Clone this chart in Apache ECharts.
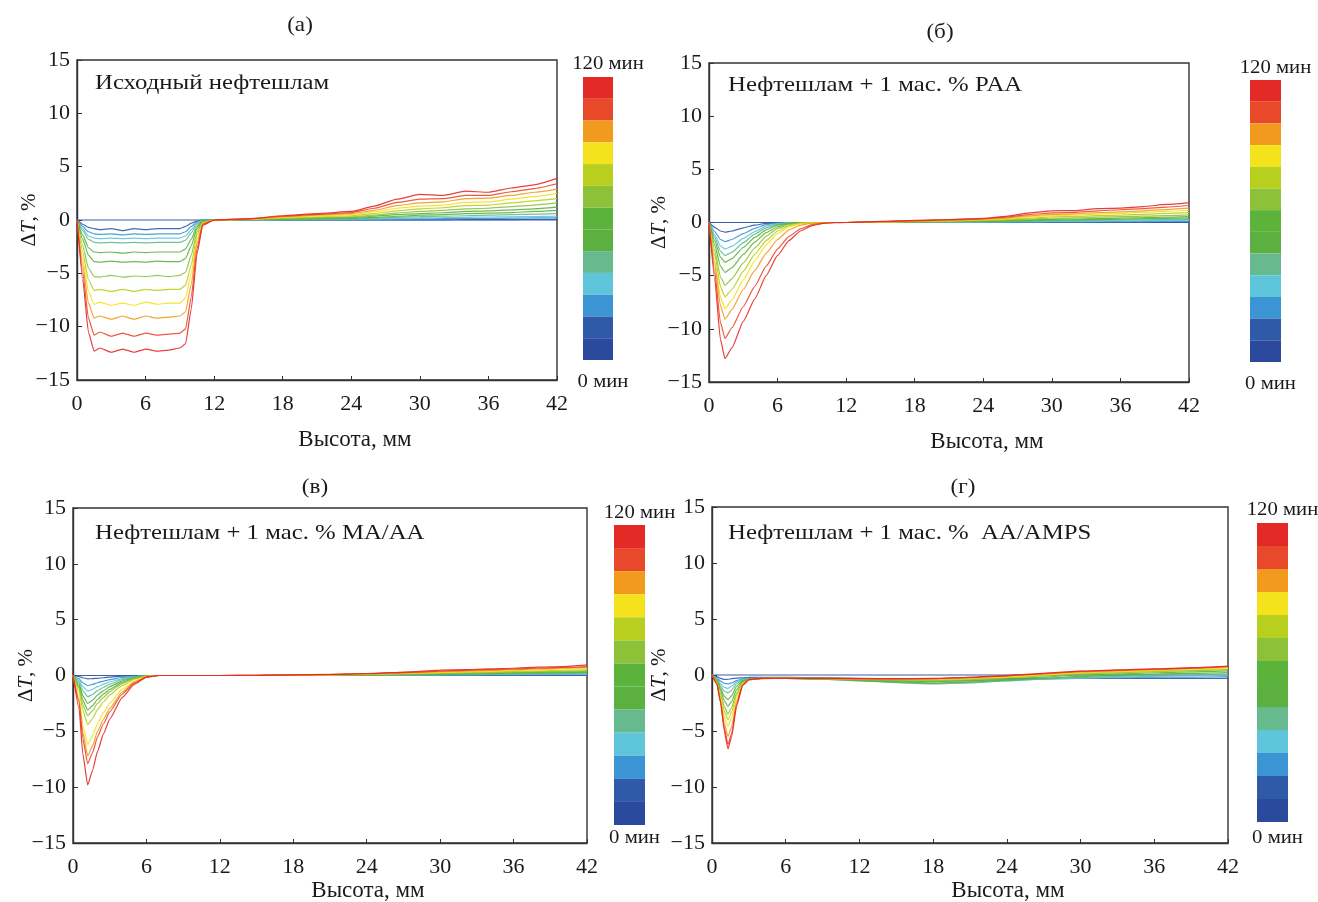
<!DOCTYPE html>
<html><head><meta charset="utf-8">
<script src="https://cdn.jsdelivr.net/npm/echarts@6/dist/echarts.min.js"></script>
<style>html,body{margin:0;padding:0;background:#fff}#c{width:1318px;height:902px}</style>
</head><body><div id="c"></div>
<script>
// ---- data ----
const minutes = [0,10,20,30,40,50,60,70,80,90,100,110,120];
const curveColors = ['#2c4a9d','#2f5aa7','#3b95d5','#5fc5da','#67b98e','#5bb040','#5cb33b','#8dc238','#b8cf1f','#f3e21c','#f29a1e','#e8492a','#e42a27'];
const xTicks = [0,6,12,18,24,30,36,42];
const yTicks = [-15,-10,-5,0,5,10,15];
const panelLabels = ['(а)','(б)','(в)','(г)'];
const sampleNames = ['Исходный нефтешлам','Нефтешлам + 1 мас. % PAA','Нефтешлам + 1 мас. % MA/AA','Нефтешлам + 1 мас. %  AA/AMPS'];
const barTopText = '120 мин';
const barBottomText = '0 мин';
const xName = 'Высота, мм';

const heightA = [0,0.5,1,1.5,2,3,4,5,6,7,8,9,9.5,10,10.5,11,12,15,18,21,24,26,28,30,32,34,36,38,40,42];
const dtA = [
 [0,0,0,0,0,0,0,0,0,0,0,0,0,0,0,0,0,0,0,0,0,0,0,0,0,0,0,0,0,0],
 [0,-0.4,-0.7,-0.8,-0.9,-0.8,-1.0,-0.8,-0.9,-0.8,-0.8,-0.8,-0.6,-0.3,-0.1,0,0,0,0,0,0,0,0,0.02,0.02,0.03,0.03,0.04,0.05,0.05],
 [0,-0.6,-1.1,-1.3,-1.35,-1.3,-1.4,-1.3,-1.35,-1.3,-1.3,-1.3,-1.1,-0.6,-0.2,0,0,0,0.01,0.02,0.03,0.05,0.07,0.1,0.12,0.13,0.15,0.17,0.19,0.2],
 [0,-0.8,-1.5,-1.7,-1.75,-1.7,-1.75,-1.7,-1.75,-1.7,-1.7,-1.7,-1.5,-0.9,-0.3,0,0,0.01,0.03,0.05,0.07,0.1,0.15,0.2,0.22,0.25,0.28,0.3,0.33,0.35],
 [0,-1.0,-1.8,-2.1,-2.15,-2.1,-2.15,-2.1,-2.15,-2.1,-2.1,-2.1,-1.9,-1.2,-0.4,-0.05,0,0.02,0.05,0.08,0.12,0.17,0.25,0.32,0.35,0.4,0.45,0.5,0.55,0.6],
 [0,-1.4,-2.6,-3.0,-3.05,-3.0,-3.1,-3.0,-3.05,-3.0,-3.0,-3.0,-2.7,-1.8,-0.6,-0.1,0,0.03,0.08,0.12,0.17,0.25,0.35,0.45,0.5,0.6,0.65,0.7,0.8,0.9],
 [0,-1.8,-3.3,-3.9,-3.95,-3.85,-3.95,-3.9,-3.95,-3.85,-3.9,-3.9,-3.6,-2.4,-0.8,-0.15,0,0.04,0.1,0.16,0.22,0.35,0.5,0.6,0.68,0.8,0.85,0.95,1.05,1.2],
 [0,-2.4,-4.5,-5.3,-5.35,-5.2,-5.35,-5.25,-5.3,-5.2,-5.3,-5.2,-4.9,-3.3,-1.1,-0.2,0,0.05,0.15,0.22,0.3,0.45,0.65,0.8,0.9,1.05,1.1,1.25,1.4,1.6],
 [0,-3.0,-5.6,-6.6,-6.5,-6.7,-6.5,-6.7,-6.5,-6.6,-6.5,-6.5,-6.1,-4.2,-1.4,-0.25,0,0.06,0.2,0.3,0.4,0.6,0.85,1.05,1.15,1.35,1.4,1.6,1.8,2.0],
 [0,-3.6,-6.7,-7.9,-7.7,-8.0,-7.8,-8.0,-7.7,-7.9,-7.8,-7.8,-7.3,-5.0,-1.8,-0.3,0,0.07,0.25,0.38,0.5,0.75,1.1,1.3,1.4,1.65,1.7,1.95,2.2,2.5],
 [0,-4.2,-7.8,-9.2,-9.0,-9.3,-9.0,-9.3,-9.0,-9.2,-9.1,-9.0,-8.6,-6.0,-2.2,-0.35,0,0.08,0.3,0.45,0.6,0.9,1.35,1.6,1.7,2.0,2.05,2.3,2.6,2.9],
 [0,-4.9,-9.2,-10.8,-10.5,-10.9,-10.6,-10.9,-10.6,-10.8,-10.7,-10.6,-10.2,-7.2,-2.7,-0.4,0,0.1,0.35,0.52,0.7,1.1,1.65,1.95,2.0,2.3,2.3,2.65,2.95,3.4],
 [0,-5.6,-10.5,-12.3,-12.0,-12.4,-12.1,-12.4,-12.1,-12.3,-12.2,-12.0,-11.6,-8.3,-3.2,-0.5,0,0.12,0.4,0.6,0.8,1.3,1.95,2.4,2.3,2.7,2.6,3.0,3.3,3.9]
];

const heightB = [0,0.5,1,1.4,2,3,4,5,6,7,8,9,10,11,12,15,18,21,24,26,28,30,32,34,36,38,40,42];
const dtB = [
 [0,0,0,0,0,0,0,0,0,0,0,0,0,0,0,0,0,0,0,0,0,0,0,0,0,0,0,0],
 [0,-0.45,-0.8,-0.9,-0.8,-0.5,-0.25,-0.08,-0.02,0,0,0,0,0,0,0,0,0,0,0,0,0,0,0,0,0,0.02,0.02],
 [0,-0.85,-1.6,-1.8,-1.6,-1.05,-0.55,-0.2,-0.05,0,0,0,0,0,0,0,0,0.01,0.02,0.03,0.04,0.05,0.06,0.07,0.08,0.09,0.1,0.1],
 [0,-1.15,-2.2,-2.5,-2.25,-1.5,-0.85,-0.35,-0.1,-0.02,0,0,0,0,0,0.01,0.02,0.03,0.05,0.06,0.08,0.1,0.11,0.13,0.15,0.17,0.19,0.2],
 [0,-1.4,-2.7,-3.1,-2.8,-1.9,-1.1,-0.5,-0.17,-0.04,0,0,0,0,0,0.02,0.04,0.06,0.08,0.1,0.13,0.16,0.18,0.2,0.23,0.26,0.28,0.3],
 [0,-1.7,-3.25,-3.75,-3.4,-2.35,-1.4,-0.7,-0.25,-0.07,-0.01,0,0,0,0,0.02,0.05,0.08,0.11,0.14,0.18,0.22,0.25,0.28,0.32,0.36,0.39,0.42],
 [0,-2.1,-4.1,-4.7,-4.25,-3.0,-1.85,-0.95,-0.4,-0.12,-0.03,0,0,0,0,0.03,0.06,0.1,0.14,0.18,0.25,0.3,0.33,0.37,0.42,0.47,0.5,0.55],
 [0,-2.6,-5.1,-5.9,-5.3,-3.8,-2.4,-1.3,-0.55,-0.18,-0.05,-0.01,0,0,0,0.04,0.08,0.12,0.18,0.24,0.33,0.4,0.44,0.5,0.55,0.6,0.66,0.72],
 [0,-3.0,-6.0,-7.0,-6.3,-4.6,-3.0,-1.7,-0.8,-0.3,-0.08,-0.02,0,0,0,0.05,0.1,0.15,0.22,0.3,0.42,0.52,0.57,0.64,0.7,0.77,0.85,0.92],
 [0,-3.5,-7.0,-8.1,-7.3,-5.4,-3.6,-2.1,-1.05,-0.42,-0.13,-0.03,0,0,0,0.06,0.12,0.18,0.26,0.36,0.52,0.64,0.7,0.78,0.86,0.95,1.05,1.15],
 [0,-3.9,-7.8,-9.1,-8.2,-6.3,-4.5,-2.9,-1.6,-0.7,-0.25,-0.06,-0.01,0,0,0.07,0.14,0.21,0.3,0.42,0.62,0.76,0.82,0.92,1.0,1.1,1.22,1.35],
 [0,-4.6,-9.4,-10.9,-9.9,-7.9,-6.0,-4.1,-2.5,-1.3,-0.6,-0.2,-0.05,0,0,0.08,0.16,0.24,0.35,0.5,0.75,0.9,0.96,1.1,1.2,1.3,1.45,1.6],
 [0,-5.3,-11.0,-12.8,-11.8,-9.3,-7.2,-5.0,-3.1,-1.7,-0.8,-0.3,-0.08,-0.01,0,0.1,0.2,0.28,0.4,0.58,0.9,1.1,1.12,1.3,1.35,1.5,1.7,1.85]
];

const heightC = [0,0.5,0.8,1.2,1.6,2,2.5,3,4,5,6,7,9,12,15,18,21,24,26,28,30,32,34,36,38,40,42];
const dtC = [
 [0,0,0,0,0,0,0,0,0,0,0,0,0,0,0,0,0,0,0,0,0,0,0,0,0,0,0],
 [0,-0.1,-0.2,-0.3,-0.28,-0.25,-0.2,-0.15,-0.06,-0.02,0,0,0,0,0,0,0,0,0,0,0,0,0,0,0,0,0],
 [0,-0.3,-0.65,-0.9,-0.8,-0.65,-0.5,-0.37,-0.18,-0.06,0,0,0,0,0,0,0,0,0.01,0.02,0.03,0.04,0.05,0.06,0.07,0.08,0.08],
 [0,-0.45,-1.0,-1.4,-1.25,-1.0,-0.78,-0.58,-0.28,-0.1,-0.01,0,0,0,0,0.01,0.02,0.03,0.04,0.05,0.06,0.08,0.09,0.1,0.11,0.12,0.13],
 [0,-0.6,-1.35,-1.9,-1.7,-1.35,-1.05,-0.78,-0.38,-0.14,-0.02,0,0,0,0,0.01,0.02,0.03,0.05,0.06,0.08,0.1,0.12,0.14,0.16,0.18,0.2],
 [0,-0.8,-1.8,-2.5,-2.2,-1.75,-1.35,-1.0,-0.5,-0.18,-0.03,0,0,0,0,0.01,0.03,0.05,0.07,0.09,0.12,0.14,0.17,0.2,0.22,0.25,0.28],
 [0,-1.0,-2.2,-3.1,-2.7,-2.15,-1.65,-1.25,-0.62,-0.23,-0.04,0,0,0,0,0.02,0.04,0.06,0.09,0.12,0.15,0.18,0.21,0.25,0.28,0.32,0.35],
 [0,-1.15,-2.6,-3.6,-3.15,-2.5,-1.95,-1.45,-0.72,-0.27,-0.05,0,0,0,0,0.02,0.05,0.08,0.11,0.14,0.18,0.22,0.26,0.3,0.34,0.38,0.42],
 [0,-1.4,-3.1,-4.4,-3.85,-3.05,-2.35,-1.75,-0.9,-0.34,-0.07,0,0,0,0,0.03,0.06,0.1,0.14,0.18,0.23,0.28,0.32,0.37,0.42,0.47,0.52],
 [0,-1.9,-4.4,-6.2,-5.4,-4.3,-3.3,-2.5,-1.25,-0.5,-0.1,0,0,0,0,0.03,0.07,0.12,0.17,0.22,0.28,0.34,0.39,0.45,0.5,0.56,0.62],
 [0,-2.2,-5.1,-7.2,-6.3,-5.0,-3.9,-2.95,-1.5,-0.6,-0.12,0,0,0,0.01,0.04,0.08,0.14,0.2,0.26,0.34,0.4,0.46,0.52,0.58,0.65,0.72],
 [0,-2.4,-5.6,-7.9,-6.9,-5.5,-4.3,-3.25,-1.68,-0.68,-0.14,0,0,0,0.01,0.05,0.09,0.16,0.23,0.3,0.4,0.46,0.53,0.58,0.65,0.72,0.8],
 [0,-3.0,-7.0,-9.8,-8.5,-6.8,-5.2,-3.9,-2.0,-0.8,-0.15,0,0,0,0.01,0.06,0.1,0.18,0.26,0.35,0.48,0.52,0.6,0.65,0.75,0.8,0.95]
];

const heightD = [0,0.4,0.7,1.0,1.3,1.6,2.0,2.5,3,4,6,9,12,15,18,21,24,27,30,33,36,39,42];
const dtD = [
 [0,0,0,0,0,0,0,0,0,0,0,0,0,0,0,0,0,0,0,0,0,0,0],
 [0,-0.15,-0.3,-0.4,-0.38,-0.33,-0.28,-0.25,-0.22,-0.2,-0.2,-0.25,-0.3,-0.35,-0.35,-0.35,-0.3,-0.3,-0.3,-0.3,-0.3,-0.3,-0.3],
 [0,-0.25,-0.55,-0.75,-0.8,-0.7,-0.5,-0.35,-0.3,-0.25,-0.25,-0.3,-0.4,-0.5,-0.55,-0.5,-0.4,-0.35,-0.3,-0.25,-0.2,-0.2,-0.15],
 [0,-0.3,-0.8,-1.1,-1.2,-1.0,-0.6,-0.4,-0.32,-0.28,-0.28,-0.35,-0.5,-0.65,-0.75,-0.65,-0.5,-0.38,-0.28,-0.2,-0.12,-0.08,-0.02],
 [0,-0.35,-1.0,-1.45,-1.6,-1.35,-0.75,-0.45,-0.34,-0.3,-0.3,-0.38,-0.52,-0.68,-0.8,-0.7,-0.52,-0.35,-0.22,-0.12,-0.05,0.02,0.08],
 [0,-0.45,-1.2,-1.9,-2.2,-1.85,-1.0,-0.5,-0.36,-0.3,-0.3,-0.36,-0.48,-0.6,-0.72,-0.62,-0.45,-0.28,-0.12,-0.02,0.08,0.15,0.22],
 [0,-0.5,-1.4,-2.3,-2.8,-2.35,-1.3,-0.6,-0.38,-0.3,-0.3,-0.35,-0.44,-0.52,-0.6,-0.5,-0.36,-0.18,0.0,0.1,0.2,0.28,0.36],
 [0,-0.6,-1.7,-2.8,-3.5,-2.9,-1.6,-0.7,-0.4,-0.32,-0.3,-0.33,-0.4,-0.46,-0.5,-0.42,-0.28,-0.08,0.1,0.2,0.3,0.4,0.48],
 [0,-0.65,-1.9,-3.2,-4.0,-3.3,-1.8,-0.75,-0.42,-0.32,-0.3,-0.32,-0.38,-0.42,-0.44,-0.36,-0.22,-0.02,0.16,0.26,0.36,0.46,0.56],
 [0,-0.7,-2.1,-3.7,-4.6,-3.8,-2.1,-0.8,-0.42,-0.32,-0.3,-0.31,-0.36,-0.4,-0.4,-0.3,-0.16,0.04,0.22,0.32,0.42,0.52,0.62],
 [0,-0.75,-2.3,-4.3,-5.5,-4.6,-2.4,-0.85,-0.42,-0.31,-0.3,-0.3,-0.34,-0.37,-0.36,-0.26,-0.1,0.1,0.28,0.38,0.48,0.58,0.7],
 [0,-0.8,-2.4,-4.7,-6.2,-5.2,-2.6,-0.9,-0.42,-0.3,-0.3,-0.3,-0.33,-0.35,-0.32,-0.22,-0.07,0.13,0.32,0.42,0.52,0.62,0.76],
 [0,-0.8,-2.5,-5.0,-6.6,-5.5,-2.8,-0.9,-0.4,-0.3,-0.3,-0.3,-0.32,-0.33,-0.3,-0.2,-0.05,0.15,0.35,0.45,0.55,0.65,0.8]
];

// ---- layout ----
const FONT = 'Liberation Serif';
const layouts = [
  {h: heightA, d: dtA, grid: {left: 77, top: 60, width: 480, height: 320}, bar: {left: 583, top: 77, w: 30, h: 283}, label: [300, 25], note: [95, 83], barTxt: [64, 382], xGap: 48, yGap: 37},
  {h: heightB, d: dtB, grid: {left: 709, top: 63, width: 480, height: 319}, bar: {left: 1250, top: 80, w: 31, h: 282}, label: [940, 32], note: [728, 85], barTxt: [68, 384], xGap: 48, yGap: 39},
  {h: heightC, d: dtC, grid: {left: 73, top: 508, width: 514, height: 335}, bar: {left: 614, top: 525, w: 31, h: 300}, label: [315, 487], note: [95, 533], barTxt: [513, 838], xGap: 36, yGap: 36},
  {h: heightD, d: dtD, grid: {left: 712, top: 507, width: 516, height: 336}, bar: {left: 1257, top: 523, w: 31, h: 299}, label: [963, 487], note: [728, 533], barTxt: [510, 838], xGap: 36, yGap: 42}
];

const fmtNum = v => v < 0 ? '\u2212' + Math.abs(v) : String(v);
const grids = [], xAxes = [], yAxes = [], series = [], visualMaps = [], graphics = [];

layouts.forEach((L, p) => {
  grids.push(Object.assign({show: true, borderColor: '#333', borderWidth: 1.4, backgroundColor: '#fff', outerBoundsMode: 'none', containLabel: false}, L.grid));
  xAxes.push({
    type: 'value', gridIndex: p, min: xTicks[0], max: xTicks[xTicks.length - 1], interval: xTicks[1] - xTicks[0],
    name: xName, nameLocation: 'middle', nameGap: L.xGap, nameMoveOverlap: false,
    nameTextStyle: {fontFamily: FONT, fontSize: 23, color: '#1a1a1a', padding: [0, 0, 0, 76]},
    axisLine: {onZero: false, lineStyle: {color: '#333', width: 1.4}},
    axisTick: {inside: true, length: 4, lineStyle: {color: '#333'}},
    axisLabel: {fontFamily: FONT, fontSize: 22, color: '#1a1a1a', margin: 13, formatter: fmtNum},
    splitLine: {show: false}
  });
  yAxes.push({
    type: 'value', gridIndex: p, min: yTicks[0], max: yTicks[yTicks.length - 1], interval: yTicks[1] - yTicks[0],
    name: '{d|Δ}{t|T}{d|, %}', nameLocation: 'middle', nameGap: L.yGap, nameMoveOverlap: false,
    nameTextStyle: {rich: {d: {fontFamily: FONT, fontSize: 21, color: '#1a1a1a'}, t: {fontFamily: FONT, fontSize: 21, fontStyle: 'italic', color: '#1a1a1a'}}},
    axisLine: {onZero: false, lineStyle: {color: '#333', width: 1.4}},
    axisTick: {inside: true, length: 5, lineStyle: {color: '#333'}},
    axisLabel: {fontFamily: FONT, fontSize: 22, color: '#1a1a1a', margin: 7, formatter: fmtNum},
    splitLine: {show: false}
  });
  L.d.forEach((row, i) => {
    series.push({
      type: 'line', name: minutes[i] + ' мин', xAxisIndex: p, yAxisIndex: p,
      data: L.h.map((x, k) => [x, row[k]]),
      showSymbol: false, smooth: 0.15, smoothMonotone: 'x',
      lineStyle: {color: curveColors[i], width: 1.2, opacity: 0.9},
      itemStyle: {color: curveColors[i]},
      silent: true, z: 2 + i
    });
  });
  const dummyIndex = series.length;
  series.push({type: 'scatter', xAxisIndex: p, yAxisIndex: p, data: [], silent: true});
  visualMaps.push({
    type: 'piecewise', seriesIndex: dummyIndex, orient: 'vertical',
    left: L.bar.left, top: L.bar.top, padding: 0,
    itemWidth: L.bar.w, itemHeight: L.bar.h / minutes.length, itemGap: 0, itemSymbol: 'rect',
    showLabel: false, selectedMode: false, hoverLink: false,
    pieces: minutes.map((m, i) => ({min: m - 5, max: m + 5, color: curveColors[i]}))
  });
  const cx = L.bar.left + L.bar.w / 2;
  const txt = (x, y, text, size, align, sx) => ({type: 'text', x: x, y: y, scaleX: sx, z: 100,
    style: {text: text, font: size + 'px "Liberation Serif"', fill: '#1a1a1a', align: align, verticalAlign: 'middle'}});
  graphics.push(
    txt(L.label[0], L.label[1], panelLabels[p], 21, 'center', 1.1),
    txt(L.note[0], L.note[1], sampleNames[p], 21, 'left', 1.18),
    txt(cx + 10, L.barTxt[0], barTopText, 18, 'center', 1.15),
    txt(cx + 5, L.barTxt[1], barBottomText, 18, 'center', 1.15)
  );
});

const chart = echarts.init(document.getElementById('c'), null, {renderer: 'canvas'});
chart.setOption({
  animation: false,
  backgroundColor: '#fff',
  grid: grids, xAxis: xAxes, yAxis: yAxes, series: series,
  visualMap: visualMaps, graphic: graphics
});
</script>
</body></html>
